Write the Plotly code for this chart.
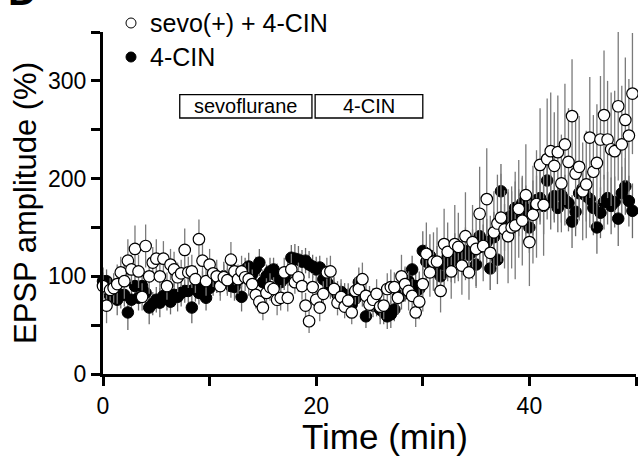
import plotly.graph_objects as go

# ---- data ----
time_min = [k / 3 for k in range(150)]  # one sweep every 20 s

sevo_cin = [
    90, 70, 86, 88, 92, 104, 95, 116, 107, 128, 105, 79, 131, 100, 114,
    118, 100, 118, 90, 112, 107, 99, 103, 127, 104, 105, 97, 138, 116, 95,
    112, 103, 100, 90, 99, 96, 117, 105, 97, 105, 99, 97, 92, 81, 74,
    68, 83, 89, 87, 76, 78, 104, 78, 107, 94, 99, 90, 70, 54, 89,
    76, 68, 82, 104, 105, 87, 73, 79, 69, 75, 63, 85, 87, 97, 80,
    71, 76, 82, 69, 70, 87, 89, 89, 78, 100, 92, 85, 80, 63, 74,
    92, 123, 104, 115, 115, 85, 133, 125, 105, 133, 130, 111, 141, 104, 135,
    128, 164, 131, 179, 124, 145, 154, 160, 148, 141, 150, 152, 169, 157, 183,
    135, 163, 174, 214, 173, 220, 228, 213, 227, 195, 235, 217, 264, 205, 212,
    187, 194, 242, 207, 216, 240, 265, 240, 230, 228, 274, 235, 260, 244, 287,
]
sevo_cin_err = [
    14, 18, 12, 15, 20, 16, 18, 22, 15, 24, 17, 14, 22, 18, 16,
    20, 15, 18, 14, 16, 18, 15, 14, 22, 16, 17, 14, 20, 18, 15,
    16, 14, 17, 15, 13, 16, 18, 14, 15, 16, 14, 17, 15, 14, 12,
    13, 15, 14, 12, 16, 13, 15, 14, 16, 12, 15, 14, 13, 12, 14,
    12, 14, 13, 15, 16, 12, 13, 14, 12, 13, 12, 14, 15, 17, 13,
    14, 12, 15, 13, 14, 16, 18, 15, 17, 22, 18, 20, 17, 15, 18,
    28, 32, 25, 30, 35, 22, 36, 30, 28, 40, 35, 30, 45, 28, 38,
    40, 48, 36, 52, 38, 42, 50, 45, 40, 48, 42, 55, 50, 46, 52,
    45, 50, 55, 58, 52, 62, 60, 55, 58, 50, 62, 55, 58, 56, 52,
    50, 55, 62, 58, 60, 65, 66, 60, 58, 62, 76, 60, 64, 58, 62,
]

cin_only = [
    95, 95, 80, 85, 76, 81, 81, 63, 76, 90, 78, 90, 83, 68, 72,
    76, 73, 80, 79, 74, 81, 79, 83, 85, 85, 68, 88, 83, 90, 78,
    88, 94, 96, 92, 100, 95, 90, 89, 96, 79, 107, 110, 102, 108, 114,
    94, 100, 105, 107, 100, 94, 98, 104, 119, 118, 117, 115, 116, 112, 110,
    107, 109, 97, 94, 90, 87, 81, 84, 81, 79, 71, 77, 94, 82, 59,
    76, 70, 72, 66, 63, 59, 61, 66, 79, 80, 92, 95, 107, 90, 87,
    126, 115, 121, 105, 110, 100, 112, 120, 115, 121, 118, 123, 126, 122, 125,
    112, 141, 130, 135, 108, 140, 117, 187, 150, 160, 162, 170, 165, 175, 168,
    150, 170, 178, 180, 172, 198, 176, 182, 170, 183, 178, 175, 156, 166, 185,
    190, 182, 179, 170, 150, 165, 176, 180, 172, 176, 159, 185, 192, 177, 167,
]
cin_only_err = [
    14, 12, 15, 13, 16, 14, 12, 18, 14, 15, 13, 16, 14, 17, 12,
    13, 15, 12, 14, 13, 12, 15, 14, 12, 13, 16, 14, 12, 15, 13,
    12, 14, 13, 12, 15, 13, 12, 14, 13, 15, 12, 14, 13, 12, 14,
    13, 12, 14, 12, 13, 15, 12, 14, 13, 15, 14, 12, 13, 14, 12,
    13, 12, 14, 12, 13, 12, 14, 13, 12, 14, 13, 12, 15, 13, 12,
    14, 12, 13, 15, 12, 13, 14, 12, 15, 14, 16, 15, 14, 16, 18,
    20, 18, 22, 19, 21, 20, 22, 18, 21, 23, 20, 22, 24, 21, 23,
    22, 25, 23, 24, 22, 26, 25, 28, 24, 26, 25, 27, 24, 26, 25,
    26, 28, 25, 27, 29, 26, 28, 27, 25, 28, 26, 29, 27, 25, 28,
    27, 26, 29, 28, 27, 26, 28, 27, 29, 26, 28, 27, 29, 26, 28,
]

series_names = ["sevo(+) + 4-CIN", "4-CIN"]
x_tick_vals = [0, 10, 20, 30, 40, 50]
x_tick_text = ["0", "", "20", "", "40", ""]
y_tick_vals = [0, 50, 100, 150, 200, 250, 300, 350]
y_tick_text = ["0", "", "100", "", "200", "", "300", ""]
bars = [("sevoflurane", 7.2, 19.6), ("4-CIN", 19.9, 30.0)]
bar_y = (262, 286)

FONT = "Arial, Liberation Sans, Helvetica, sans-serif"

fig = go.Figure()
fig.add_trace(go.Scatter(
    x=time_min, y=cin_only, mode="markers", name=series_names[1],
    marker=dict(size=11.5, color="black", line=dict(color="black", width=1)),
    error_y=dict(type="data", array=cin_only_err, color="#6a6a6a",
                 thickness=1.3, width=0),
    cliponaxis=False, showlegend=False,
))
fig.add_trace(go.Scatter(
    x=time_min, y=sevo_cin, mode="markers", name=series_names[0],
    marker=dict(size=11.5, color="white", line=dict(color="black", width=1.2)),
    error_y=dict(type="data", array=sevo_cin_err, color="#7a7a7a",
                 thickness=1.3, width=0),
    cliponaxis=False, showlegend=False,
))

# plot area geometry in pixels: x 103..636, y 32..374
PW, PH = 533.0, 342.0
def px(x):
    return (x - 103) / PW
def py(y):
    return (374 - y) / PH

shapes = []
annotations = []
for label, x0, x1 in bars:
    shapes.append(dict(type="rect", xref="x", yref="y", x0=x0, x1=x1,
                       y0=bar_y[0], y1=bar_y[1],
                       line=dict(color="black", width=1.3), fillcolor="white"))
    annotations.append(dict(x=(x0 + x1) / 2, y=(bar_y[0] + bar_y[1]) / 2,
                            xref="x", yref="y", text=label, showarrow=False,
                            font=dict(family=FONT, size=20, color="black")))

# legend drawn by hand
legend_rows = [(23, "white"), (57, "black")]
for (cy, fill), name in zip(legend_rows, series_names):
    r = 5
    shapes.append(dict(type="circle", xref="paper", yref="paper",
                       x0=px(131 - r), x1=px(131 + r), y0=py(cy + r), y1=py(cy - r),
                       line=dict(color="black", width=1), fillcolor=fill))
    annotations.append(dict(x=px(148), y=py(cy), xref="paper", yref="paper",
                            xanchor="left", yanchor="middle", text=name,
                            showarrow=False,
                            font=dict(family=FONT, size=25, color="black")))

# axis titles
annotations.append(dict(x=px(385), y=py(436), xref="paper", yref="paper",
                        text="Time (min)", showarrow=False,
                        xanchor="center", yanchor="middle",
                        font=dict(family=FONT, size=35, color="black")))
annotations.append(dict(x=px(25), y=py(203), xref="paper", yref="paper",
                        text="EPSP amplitude (%)", showarrow=False, textangle=-90,
                        xanchor="center", yanchor="middle",
                        font=dict(family=FONT, size=31, color="black")))
# panel letter, mostly cropped by the top edge
annotations.append(dict(x=px(6), y=py(-9), xref="paper", yref="paper",
                        text="<b>D</b>", showarrow=False,
                        xanchor="left", yanchor="middle",
                        font=dict(family=FONT, size=40, color="black")))

axis_common = dict(showline=True, linewidth=3, linecolor="black", ticks="outside",
                   ticklen=9, tickwidth=3, tickcolor="black", showgrid=False,
                   zeroline=False, tickfont=dict(family=FONT, size=23, color="black"))

fig.update_layout(
    width=638, height=461,
    margin=dict(l=103, r=2, t=32, b=87),
    paper_bgcolor="white", plot_bgcolor="white",
    xaxis=dict(range=[0, 50], tickvals=x_tick_vals, ticktext=x_tick_text,
               **axis_common),
    yaxis=dict(range=[0, 350], tickvals=y_tick_vals, ticktext=y_tick_text,
               **axis_common),
    shapes=shapes, annotations=annotations,
)

fig.write_html("out.html")
